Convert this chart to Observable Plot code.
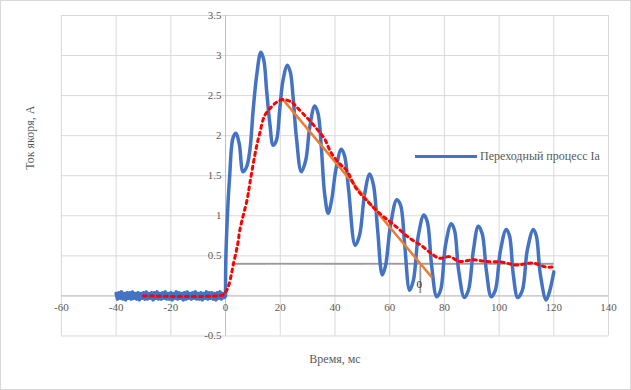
<!DOCTYPE html>
<html>
<head>
<meta charset="utf-8">
<script src="https://cdn.jsdelivr.net/npm/d3@7"></script>
<script src="https://cdn.jsdelivr.net/npm/@observablehq/plot@0.6"></script>
<style>
  html, body { margin: 0; padding: 0; background: #fff; }
  #wrap { position: relative; width: 631px; height: 390px; box-sizing: border-box; border: 1px solid #d9d9d9; overflow: hidden; }
  #chart { position: absolute; left: -1px; top: -1px; }
  #legend { position: absolute; left: 414px; top: 148px; display: flex; align-items: center;
    font-family: "Liberation Serif", "DejaVu Serif", serif; font-size: 12px; color: #595959; }
  #legend .sw { width: 62px; height: 3px; background: #4472C4; margin-right: 3px; }
</style>
</head>
<body>
<div id="wrap">
  <div id="chart"></div>
  <div id="legend"><span class="sw"></span><span>Переходный процесс Ia</span></div>
</div>
<script>
// ---- data ----
const xTicks = [-60, -40, -20, 0, 20, 40, 60, 80, 100, 120, 140];
const yTicks = [-0.5, 0, 0.5, 1, 1.5, 2, 2.5, 3, 3.5];
const xTitle = "Время, мс";
const yTitle = "Ток якоря, А";

// noise of the current before switching on (t = -40 .. 0 ms, 0.5 ms step)
const noiseV = [0.03,-0.04,0.04,-0.03,0.05,-0.04,0.03,-0.05,0.04,-0.03,0.04,-0.04,0.05,-0.03,0.03,-0.04,0.04,-0.05,0.03,-0.03,
                0.04,-0.04,0.05,-0.04,0.03,-0.03,0.04,-0.05,0.04,-0.03,0.05,-0.04,0.03,-0.04,0.04,-0.03,0.05,-0.04,0.03,-0.04,
                0.04,-0.05,0.03,-0.03,0.05,-0.04,0.04,-0.03,0.03,-0.05,0.04,-0.04,0.05,-0.03,0.03,-0.04,0.04,-0.03,0.05,-0.04,
                0.03,-0.04,0.04,-0.05,0.03,-0.03,0.05,-0.04,0.04,-0.03,0.04,-0.04,0.03,-0.05,0.04,-0.03,0.05,-0.04,0.03,-0.02,0.0];
const noiseT = d3.range(-40, 0.25, 0.5);

// transient process Ia
const blueT = [0,0.1,0.95,1.57,2.2,2.8,3.8,5.0,6.4,7.7,8.9,10.1,11.3,12.9,14.0,15.0,16.2,17.4,18.6,19.8,21.0,22.6,23.7,24.7,25.9,27.7,29.3,30.8,32.6,33.8,35.0,36.2,37.5,38.8,40.3,42.3,43.5,45.0,47.4,49.0,50.8,52.7,54.1,55.6,57.3,58.5,60.3,62.6,64.0,65.5,67.3,68.7,70.5,72.5,73.8,75.3,77.2,78.6,80.4,82.5,83.7,85.2,87.3,88.8,90.6,92.4,93.8,95.4,97.1,98.6,100.5,102.6,103.8,105.2,106.8,108.5,110.3,112.5,113.6,115.1,117.2,118.4,120];
const blueV = [0,0.45,1.19,1.53,1.86,1.98,2.03,1.90,1.55,1.61,1.82,2.32,2.73,3.04,2.94,2.57,2.15,1.88,1.94,2.32,2.69,2.88,2.79,2.48,1.98,1.55,1.69,2.11,2.37,2.28,1.86,1.28,1.03,1.2,1.57,1.83,1.75,1.32,0.63,0.76,1.26,1.52,1.38,0.82,0.26,0.38,0.88,1.20,1.13,0.63,0.07,0.2,0.76,1.01,0.92,0.39,-0.01,0.07,0.63,0.90,0.82,0.32,-0.02,0.07,0.57,0.87,0.78,0.30,-0.01,0.07,0.57,0.83,0.75,0.26,-0.02,0.07,0.57,0.83,0.75,0.26,-0.05,0.05,0.3];

// smoothed (averaged) curve
const redT = [-30,-1,-0.3,0.95,2.2,2.8,4.0,4.6,5.2,8.0,8.9,11.3,12.5,14.3,16.8,18.8,21.0,24.1,25.9,29.6,33.2,36.2,38.7,42.3,44.2,47.8,51.5,56.3,61.8,67.3,71.5,75.2,78.2,81.9,85.5,90.4,95.3,101.3,106.2,112.3,117.2,119.3];
const redV = [0,0.01,0.03,0.11,0.28,0.385,0.57,0.675,0.82,1.22,1.41,1.86,2.03,2.25,2.36,2.42,2.45,2.42,2.36,2.23,2.09,1.96,1.78,1.63,1.57,1.34,1.195,1.03,0.88,0.72,0.63,0.53,0.47,0.49,0.43,0.45,0.43,0.42,0.385,0.41,0.36,0.36];

// tangent line
const tangentT = [21, 75.2];
const tangentV = [2.45, 0.24];

// steady-state level and time-constant marker
const steadyLevel = 0.4;
const steadyT = [2.5, 120];
const thetaT = 71.2;
const thetaV = [0.4, 0.03];
const thetaLabel = {t: 70.8, v: 0.14, text: "0"};

// ---- build tables ----
const zip = (T, V) => T.map((t, i) => ({t, v: V[i]}));
const noise = zip(noiseT, noiseV);
const blue = zip(blueT, blueV);
const red = zip(redT, redV);
const tangent = zip(tangentT, tangentV);
const steady = steadyT.map(t => ({t, v: steadyLevel}));
const thetaLine = thetaV.map(v => ({t: thetaT, v}));

const font = "'Liberation Serif', 'DejaVu Serif', serif";
const grey = "#595959";
const fmt = d => String(d);

const chart = Plot.plot({
  width: 631,
  height: 390,
  marginLeft: 61,
  marginRight: 22,
  marginTop: 15,
  marginBottom: 54,
  x: {domain: [-60, 140], axis: null},
  y: {domain: [-0.5, 3.5], axis: null},
  style: {fontFamily: font, background: "transparent"},
  marks: [
    Plot.ruleX(xTicks, {stroke: "#d9d9d9", strokeWidth: 1}),
    Plot.ruleY(yTicks, {stroke: "#d9d9d9", strokeWidth: 1}),
    Plot.ruleX([0], {stroke: "#bfbfbf", strokeWidth: 1}),
    Plot.ruleY([0], {stroke: "#bfbfbf", strokeWidth: 1}),
    Plot.text(yTicks, {x: 0, y: d => d, text: fmt, textAnchor: "end", dx: -4, fill: grey, fontSize: 11}),
    Plot.text(xTicks, {x: d => d, y: 0, text: fmt, dy: 12, fill: grey, fontSize: 11}),
    Plot.line(steady, {x: "t", y: "v", stroke: "#9a9a9a", strokeWidth: 2, strokeDasharray: "1,1.5"}),
    Plot.line(thetaLine, {x: "t", y: "v", stroke: "#9a9a9a", strokeWidth: 2, strokeDasharray: "1,1.5"}),
    Plot.line(noise, {x: "t", y: "v", stroke: "#4472C4", strokeWidth: 3.5}),
    Plot.line(blue, {x: "t", y: "v", stroke: "#4472C4", strokeWidth: 3.5, curve: "catmull-rom"}),
    Plot.line(tangent, {x: "t", y: "v", stroke: "#ED7D31", strokeWidth: 2.5}),
    Plot.line(red, {x: "t", y: "v", stroke: "#FF0000", strokeWidth: 3, strokeDasharray: "3,4", curve: "catmull-rom"}),
    Plot.text([thetaLabel], {x: "t", y: "v", text: "text", fill: "#262626", fontSize: 11}),
    Plot.text([xTitle], {frameAnchor: "bottom", dy: 27, fill: grey, fontSize: 12}),
    Plot.text([yTitle], {frameAnchor: "left", dx: -31, dy: -6, rotate: -90, fill: grey, fontSize: 12})
  ]
});
document.getElementById("chart").appendChild(chart);
</script>
</body>
</html>
